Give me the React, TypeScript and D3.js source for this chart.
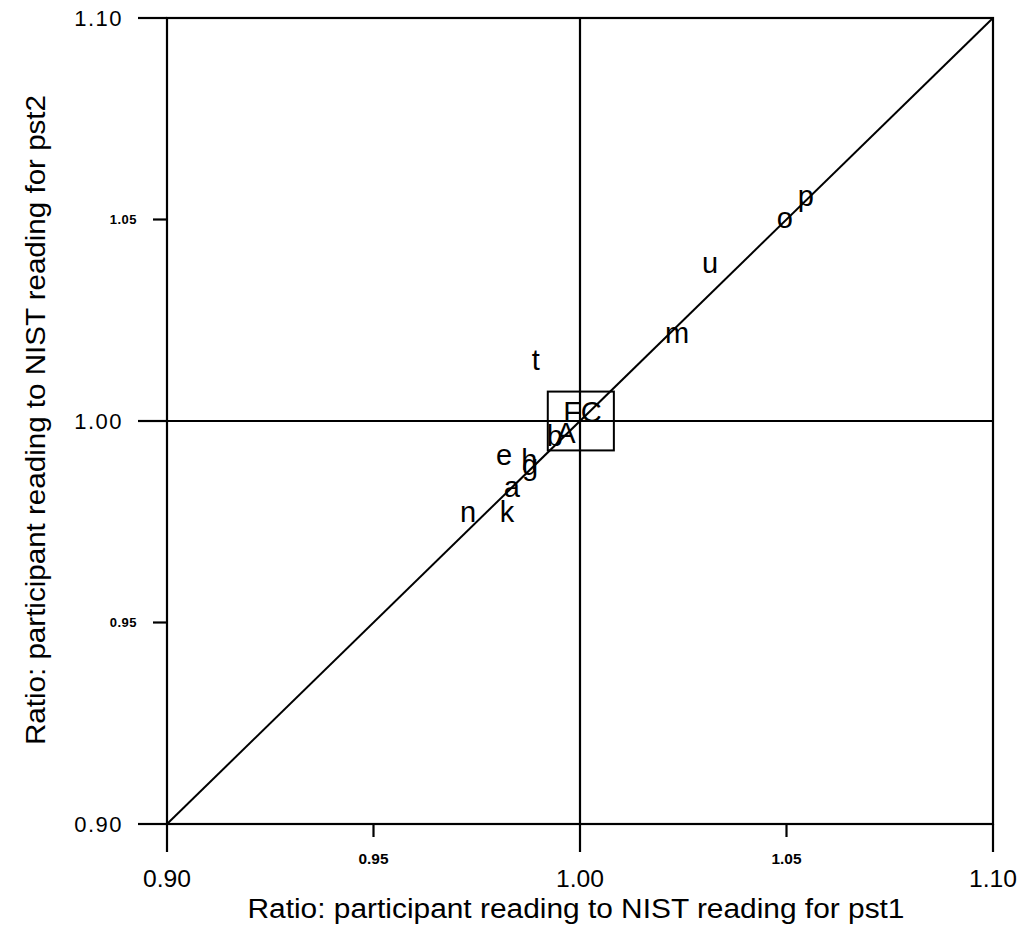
import React from 'react';
import * as d3 from 'd3';

// ratio participant / NIST, one letter per participant
const participants = ['p', 'o', 'u', 'm', 't', 'e', 'h', 'g', 'a', 'k', 'n', 'b', 'A', 'F', 'C'];
const pst1 = [1.0547, 1.0496, 1.0315, 1.0235, 0.9893, 0.9816, 0.9877, 0.9879, 0.9835, 0.9823, 0.9729, 0.9939, 0.9966, 0.9981, 1.0027];
const pst2 = [1.0558, 1.0504, 1.0392, 1.0218, 1.0151, 0.9916, 0.9903, 0.9891, 0.9836, 0.9774, 0.9774, 0.9963, 0.9970, 1.0022, 1.0022];

const majorTicks = [0.9, 1.0, 1.1];
const minorTicks = [0.95, 1.05];
const domain: [number, number] = [0.9, 1.1];
const reference = 1.0;
const boxX: [number, number] = [0.9922, 1.0082];
const boxY: [number, number] = [0.9927, 1.0073];

const xTitle = 'Ratio: participant reading to NIST reading for pst1';
const yTitle = 'Ratio: participant reading to NIST reading for pst2';

const W = 1027;
const H = 929;
const margin = { top: 18, right: 34, bottom: 105, left: 167 };

export default function App() {
  const x = d3.scaleLinear().domain(domain).range([margin.left, W - margin.right]);
  const y = d3.scaleLinear().domain(domain).range([H - margin.bottom, margin.top]);
  const x0 = x(domain[0]);
  const x1 = x(domain[1]);
  const y0 = y(domain[0]);
  const y1 = y(domain[1]);
  const majorLen = 28;
  const minorLen = 13;
  const font = "'Liberation Sans', Arial, sans-serif";
  const fmt = d3.format('.2f');

  const diag = d3.line<number>().x(d => x(d)).y(d => y(d))(domain);

  return (
    <svg width={W} height={H} style={{ position: 'absolute', left: 0, top: 0, background: '#fff' }}>
      <g stroke="#000" strokeWidth={2.2} fill="none">
        {/* frame */}
        <rect x={x0} y={y1} width={x1 - x0} height={y0 - y1} />
        {/* reference lines at 1.00 */}
        <line x1={x(reference)} x2={x(reference)} y1={y1} y2={y0} />
        <line x1={x0} x2={x1} y1={y(reference)} y2={y(reference)} />
        {/* y = x */}
        <path d={diag || ''} strokeWidth={2} />
        {/* box around the centre */}
        <rect x={x(boxX[0])} y={y(boxY[1])} width={x(boxX[1]) - x(boxX[0])} height={y(boxY[0]) - y(boxY[1])} strokeWidth={2} />
        {/* ticks */}
        {majorTicks.map(t => (
          <g key={'M' + t}>
            <line x1={x(t)} x2={x(t)} y1={y0} y2={y0 + majorLen} />
            <line x1={x0 - majorLen - 1} x2={x0} y1={y(t)} y2={y(t)} />
          </g>
        ))}
        {minorTicks.map(t => (
          <g key={'m' + t}>
            <line x1={x(t)} x2={x(t)} y1={y0} y2={y0 + minorLen} />
            <line x1={x0 - minorLen - 1} x2={x0} y1={y(t)} y2={y(t)} />
          </g>
        ))}
      </g>

      {/* y tick labels */}
      {majorTicks.map(t => (
        <text key={'yl' + t} x={123} y={y(t)} dy="0.36em" textAnchor="end"
          fontFamily={font} fontSize={22} letterSpacing={1.5}>{fmt(t)}</text>
      ))}
      {minorTicks.map(t => (
        <text key={'yls' + t} x={137} y={y(t)} dy="0.36em" textAnchor="end"
          fontFamily={font} fontSize={13} fontWeight="bold" letterSpacing={0.5}>{fmt(t)}</text>
      ))}

      {/* x tick labels */}
      {majorTicks.map(t => (
        <text key={'xl' + t} x={x(t)} y={878} dy="0.36em" textAnchor="middle"
          fontFamily={font} fontSize={24} textLength={48} lengthAdjust="spacingAndGlyphs">{fmt(t)}</text>
      ))}
      {minorTicks.map(t => (
        <text key={'xls' + t} x={x(t)} y={859} dy="0.36em" textAnchor="middle"
          fontFamily={font} fontSize={14} fontWeight="bold" textLength={30} lengthAdjust="spacingAndGlyphs">{fmt(t)}</text>
      ))}

      {/* titles */}
      <text x={576} y={908} dy="0.36em" textAnchor="middle" fontFamily={font} fontSize={27}
        textLength={657} lengthAdjust="spacingAndGlyphs">{xTitle}</text>
      <text transform={`translate(35,420) rotate(-90)`} dy="0.36em" textAnchor="middle" fontFamily={font}
        fontSize={27} textLength={650} lengthAdjust="spacingAndGlyphs">{yTitle}</text>

      {/* participant letters */}
      {participants.map((p, i) => (
        <text key={p + i} x={x(pst1[i])} y={y(pst2[i])} dy="0.35em" textAnchor="middle"
          fontFamily={font} fontSize={29}>{p}</text>
      ))}
    </svg>
  );
}
